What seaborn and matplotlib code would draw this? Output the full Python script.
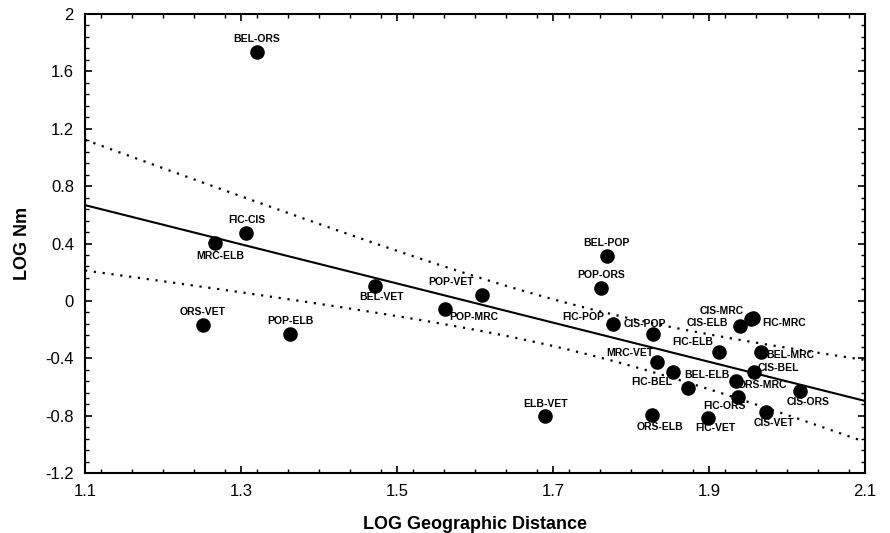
import numpy as np
import pandas as pd
import matplotlib
matplotlib.use('Agg')
import matplotlib.pyplot as plt
import seaborn as sns
from matplotlib.ticker import MultipleLocator

# population pairs with log geographic distance and log Nm
pairs = ['BEL-ORS', 'FIC-CIS', 'MRC-ELB', 'ORS-VET', 'POP-ELB', 'BEL-VET', 'POP-VET',
         'POP-MRC', 'ELB-VET', 'BEL-POP', 'POP-ORS', 'FIC-POP', 'CIS-POP', 'CIS-MRC',
         'FIC-MRC', 'CIS-ELB', 'FIC-ELB', 'BEL-MRC', 'MRC-VET', 'FIC-BEL', 'CIS-BEL',
         'BEL-ELB', 'ORS-MRC', 'FIC-ORS', 'CIS-ORS', 'CIS-VET', 'ORS-ELB', 'FIC-VET']
log_distance = [1.320, 1.307, 1.267, 1.251, 1.363, 1.472, 1.609,
                1.561, 1.690, 1.769, 1.762, 1.777, 1.828, 1.954,
                1.956, 1.940, 1.913, 1.966, 1.833, 1.854, 1.957,
                1.873, 1.934, 1.937, 2.016, 1.973, 1.827, 1.899]
log_nm = [1.735, 0.471, 0.406, -0.168, -0.231, 0.104, 0.041,
          -0.059, -0.803, 0.313, 0.092, -0.163, -0.233, -0.126,
          -0.116, -0.175, -0.359, -0.359, -0.426, -0.496, -0.496,
          -0.610, -0.556, -0.668, -0.626, -0.775, -0.796, -0.819]

# where each label sits relative to its dot (pixels, x right / y down)
label_offsets = {
    'BEL-ORS': (0, -13), 'FIC-CIS': (0, -13), 'MRC-ELB': (5, 13), 'ORS-VET': (0, -12.5),
    'POP-ELB': (0, -13), 'BEL-VET': (6, 11), 'POP-VET': (-31, -13), 'POP-MRC': (29, 8),
    'ELB-VET': (0, -12), 'BEL-POP': (0, -13), 'POP-ORS': (0, -13), 'FIC-POP': (-30, -7),
    'CIS-POP': (-8, -10), 'CIS-MRC': (-30, -8), 'FIC-MRC': (31, 5), 'CIS-ELB': (-33, -3),
    'FIC-ELB': (-26, -10), 'BEL-MRC': (30, 3), 'MRC-VET': (-27, -9), 'FIC-BEL': (-21, 10),
    'CIS-BEL': (25, -4), 'BEL-ELB': (19, -13), 'ORS-MRC': (27, 4), 'FIC-ORS': (-13, 9),
    'CIS-ORS': (9, 11), 'CIS-VET': (8, 11), 'ORS-ELB': (8, 12), 'FIC-VET': (7, 10),
}

df = pd.DataFrame({'pair': pairs, 'dist': log_distance, 'nm': log_nm})

# least squares fit and 95% confidence band of the mean
x = df['dist'].to_numpy()
y = df['nm'].to_numpy()
n = len(x)
slope, intercept = np.polyfit(x, y, 1)
resid = y - (intercept + slope * x)
s = np.sqrt(np.sum(resid ** 2) / (n - 2))
t_crit = 2.056  # t(0.975, 26 df)
grid = np.linspace(1.1, 2.1, 200)
fit = intercept + slope * grid
half = t_crit * s * np.sqrt(1 / n + (grid - x.mean()) ** 2 / np.sum((x - x.mean()) ** 2))
fit_df = pd.DataFrame({'dist': grid, 'fit': fit, 'upper': fit + half, 'lower': fit - half})

sns.set_style('ticks')
plt.rcParams['font.family'] = ['Liberation Sans', 'DejaVu Sans']
plt.rcParams.update({'text.color': 'black', 'axes.labelcolor': 'black',
                     'xtick.color': 'black', 'ytick.color': 'black'})

fig = plt.figure(figsize=(8.9, 5.33), dpi=100)
ax = fig.add_axes([0.0955, 0.1126, 0.8765, 0.8611])

sns.lineplot(data=fit_df, x='dist', y='fit', color='black', linewidth=1.5, ax=ax)
sns.lineplot(data=fit_df, x='dist', y='upper', color='black', linewidth=1.6,
             linestyle=(0, (1, 3)), ax=ax)
sns.lineplot(data=fit_df, x='dist', y='lower', color='black', linewidth=1.6,
             linestyle=(0, (1, 3)), ax=ax)
sns.scatterplot(data=df, x='dist', y='nm', color='black', s=110, edgecolor='black',
                linewidth=0, zorder=5, ax=ax)

for _, row in df.iterrows():
    dx, dy = label_offsets[row['pair']]
    ax.annotate(row['pair'], (row['dist'], row['nm']), xytext=(dx, -dy),
                textcoords='offset pixels', ha='center', va='center',
                fontsize=7.5, fontweight='bold', color='black', zorder=6)

ax.set_xlim(1.1, 2.1)
ax.set_ylim(-1.2, 2.0)
ax.xaxis.set_minor_locator(MultipleLocator(0.04))
ax.yaxis.set_minor_locator(MultipleLocator(0.08))
ax.set_xticks([1.1, 1.3, 1.5, 1.7, 1.9, 2.1])
ax.set_xticklabels(['1.1', '1.3', '1.5', '1.7', '1.9', '2.1'])
ax.set_yticks([-1.2, -0.8, -0.4, 0, 0.4, 0.8, 1.2, 1.6, 2.0])
ax.set_yticklabels(['-1.2', '-0.8', '-0.4', '0', '0.4', '0.8', '1.2', '1.6', '2'])
ax.tick_params(which='both', direction='in', top=True, right=True, color='black')
ax.tick_params(which='major', length=5, width=1.2, labelsize=12, pad=8)
ax.tick_params(which='minor', length=3, width=1)

for sp in ax.spines.values():
    sp.set_visible(True)
    sp.set_color('black')
    sp.set_linewidth(1.5)

ax.set_xlabel('LOG Geographic Distance', fontsize=13, fontweight='bold', labelpad=12)
ax.set_ylabel('LOG Nm', fontsize=13, fontweight='bold', labelpad=10)

fig.savefig('out.png', dpi=100, facecolor='white')
